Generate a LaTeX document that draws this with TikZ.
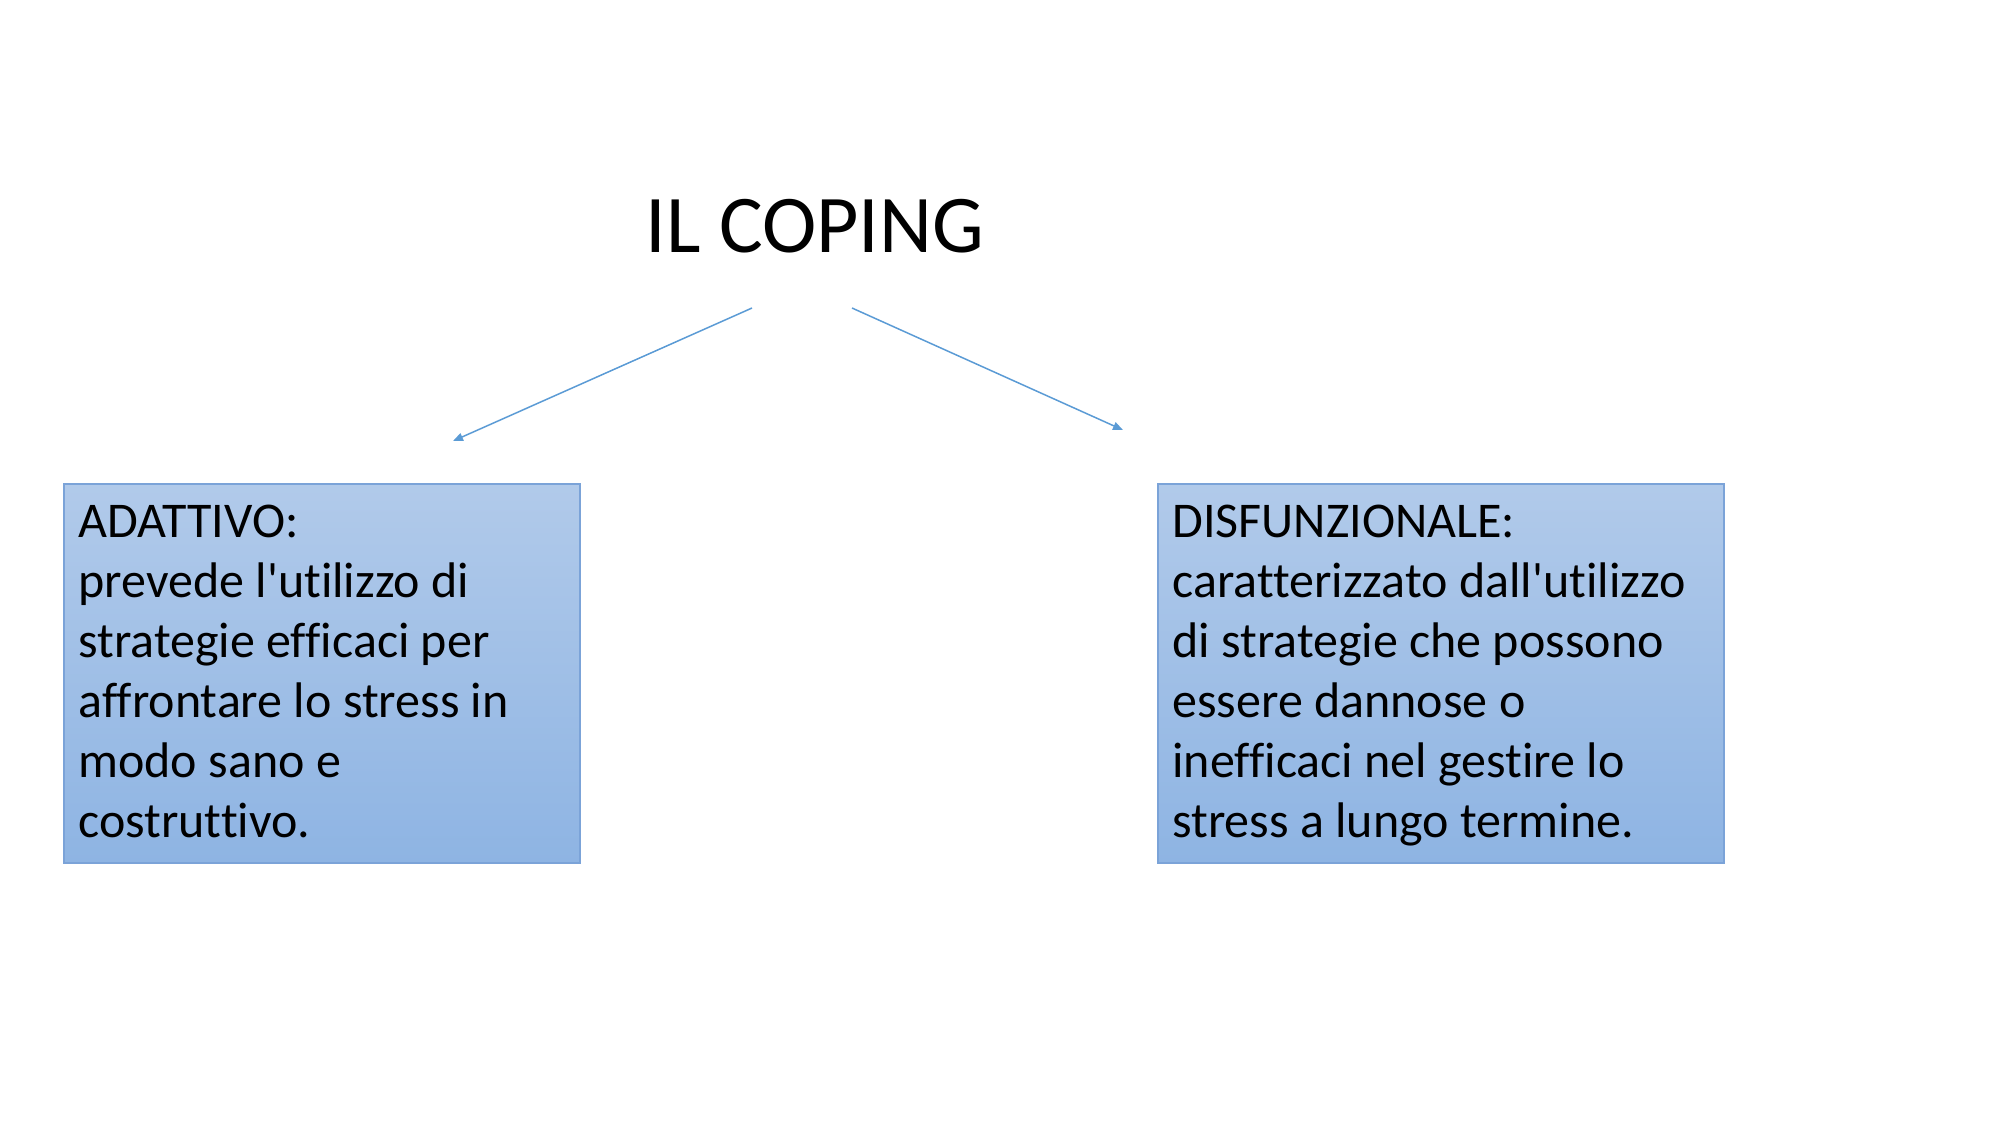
\documentclass[tikz,border=0pt]{standalone}
\usepackage{fontspec}
\setmainfont{Carlito}[Ligatures={NoCommon}]
\usetikzlibrary{arrows.meta}
\definecolor{boxtop}{HTML}{B1CAEA}
\definecolor{boxbot}{HTML}{8EB4E3}
\definecolor{boxline}{HTML}{7BA3D8}
\definecolor{arrowc}{HTML}{5B9BD5}
\tikzset{
  panel/.style={draw=boxline, line width=1pt, top color=boxtop, bottom color=boxbot, inner sep=0pt, anchor=north west},
  paneltext/.style={anchor=base west, align=left, inner sep=0pt, font=\fontsize{25pt}{30pt}\selectfont},
  link/.style={draw=arrowc, line width=0.75pt, -{Triangle[length=5pt,width=4pt]}}
}
\begin{document}
\begin{tikzpicture}[x=0.5pt,y=-0.5pt]
\useasboundingbox (0,0) rectangle (2000,1125);
\node[anchor=base west, inner sep=0pt, font=\fontsize{41pt}{49pt}\selectfont] (title) at (645,252) {IL COPING};
\coordinate (lstart) at (752,308);
\coordinate (lend) at (453,441);
\coordinate (rstart) at (852,308);
\coordinate (rend) at (1123,430);
\draw[link] (lstart) -- (lend);
\draw[link] (rstart) -- (rend);
\node[panel, minimum width=258pt, minimum height=189.5pt] (adattivo) at (63,483) {};
\node[panel, minimum width=283pt, minimum height=189.5pt] (disf) at (1157,483) {};
\node[paneltext] (adattivoText) at (78,837) {ADATTIVO:\\prevede l\textquotesingle utilizzo di\\strategie efficaci per\\affrontare lo stress in\\modo sano e\\costruttivo.};
\node[paneltext] (disfText) at (1172,837) {DISFUNZIONALE:\\caratterizzato dall\textquotesingle utilizzo\\di strategie che possono\\essere dannose o\\inefficaci nel gestire lo\\stress a lungo termine.};
\end{tikzpicture}
\end{document}
